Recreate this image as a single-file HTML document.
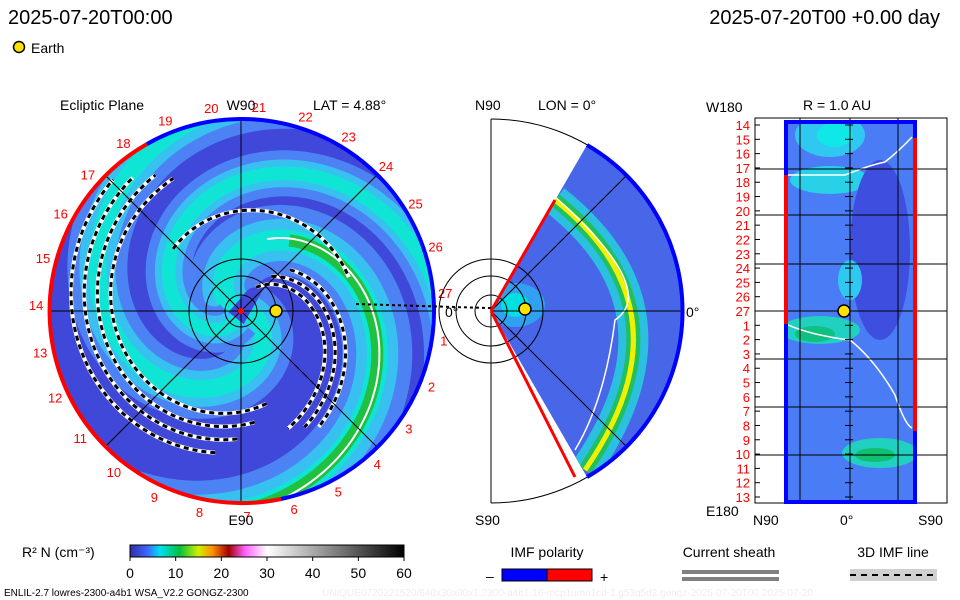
<!DOCTYPE html>
<html><head><meta charset="utf-8"><style>
html,body{margin:0;padding:0;background:#fff;}
svg{display:block;font-family:"Liberation Sans",sans-serif;}
</style></head><body>
<svg id="c" width="960" height="600" viewBox="0 0 960 600" xmlns="http://www.w3.org/2000/svg">
<defs>
<clipPath id="disk"><circle cx="241" cy="311" r="192"/></clipPath>
<clipPath id="wedge"><path d="M491,311 L587,145 A192,192 0 0 1 587,477 Z"/></clipPath>
<clipPath id="rect"><rect x="786" y="122" width="129" height="380"/></clipPath>
<linearGradient id="cbar" x1="0" x2="1">
<stop offset="0" stop-color="#3030a0"/><stop offset="0.06" stop-color="#4060ff"/><stop offset="0.11" stop-color="#00e0f0"/><stop offset="0.18" stop-color="#00c040"/><stop offset="0.25" stop-color="#d0f000"/><stop offset="0.3" stop-color="#ff9000"/><stop offset="0.36" stop-color="#a00000"/><stop offset="0.42" stop-color="#ff60ff"/><stop offset="0.5" stop-color="#ffffff"/><stop offset="1" stop-color="#000000"/>
</linearGradient>
</defs>

<text x="8" y="24" font-size="20">2025-07-20T00:00</text>
<text x="940" y="24" font-size="20" text-anchor="end">2025-07-20T00 +0.00 day</text>
<circle cx="19" cy="47" r="5.5" fill="#ffe000" stroke="#000" stroke-width="1.5"/>
<text x="31" y="53" font-size="14">Earth</text>

<g>
<circle cx="241" cy="311" r="192" fill="#3f48d8"/>
<g id="arms" clip-path="url(#disk)"></g>
<g stroke="#000" stroke-width="1" fill="none">
<line x1="241" y1="119" x2="241" y2="503"/><line x1="49" y1="311" x2="433" y2="311"/>
<line x1="105" y1="175" x2="377" y2="447"/><line x1="105" y1="447" x2="377" y2="175"/>
<circle cx="241" cy="311" r="16"/><circle cx="241" cy="311" r="35"/><circle cx="241" cy="311" r="52"/>
</g>
<path d="M241,119 A192,192 0 0 1 281,499" fill="none" stroke="#0000ff" stroke-width="4"/>
<path d="M281,499 A192,192 0 0 1 147,144" fill="none" stroke="#ff0000" stroke-width="4"/>
<path d="M147,144 A192,192 0 0 1 241,119" fill="none" stroke="#0000ff" stroke-width="4"/>
<g id="lonlabels" font-size="13" fill="#ff0000" text-anchor="middle"></g>
<text x="60" y="110" font-size="14">Ecliptic Plane</text>
<text x="241" y="110" font-size="14" text-anchor="middle">W90</text>
<text x="313" y="110" font-size="14">LAT = 4.88°</text>
<text x="241" y="525" font-size="14" text-anchor="middle">E90</text>
<text x="445" y="317" font-size="14">0°</text>
<path d="M356,304 L520,309" stroke="#000" stroke-width="2" stroke-dasharray="3,3"/>
<circle cx="276" cy="311" r="6" fill="#ffe000" stroke="#000" stroke-width="1.5"/>
<circle cx="241" cy="311" r="3" fill="#ff0000"/>
</g>

<g>
<path d="M491,119 A192,192 0 0 1 491,503" fill="none" stroke="#000" stroke-width="1"/>
<line x1="491" y1="119" x2="491" y2="503" stroke="#000"/>
<path d="M491,311 L587,145 A192,192 0 0 1 587,477 Z" fill="#4766e8"/>
<g clip-path="url(#wedge)">
<ellipse cx="515" cy="305" rx="30" ry="22" fill="#30a0f0"/>
<ellipse cx="515" cy="305" rx="14" ry="12" fill="#00e0e0"/>
<path d="M555,200 Q695,311 585,470" fill="none" stroke="#2cc0e0" stroke-width="30"/>
<path d="M555,200 Q695,311 585,470" fill="none" stroke="#20c060" stroke-width="14"/>
<path d="M555,200 Q695,311 585,470" fill="none" stroke="#f0f000" stroke-width="5"/>
<path d="M553,195 Q660,290 615,320 Q605,400 575,450" fill="none" stroke="#fff" stroke-width="1.5"/>
</g>
<g stroke="#000" fill="none"><circle cx="491" cy="311" r="16"/><circle cx="491" cy="311" r="35"/><circle cx="491" cy="311" r="52"/>
<line x1="491" y1="311" x2="627" y2="175"/><line x1="491" y1="311" x2="627" y2="447"/><line x1="491" y1="311" x2="683" y2="311"/></g>
<path d="M587,145 A192,192 0 0 1 587,477" fill="none" stroke="#0000ff" stroke-width="4"/>
<line x1="491" y1="311" x2="555" y2="200" stroke="#ff0000" stroke-width="3"/>
<line x1="491" y1="311" x2="575" y2="477" stroke="#ff0000" stroke-width="3"/>
<circle cx="525" cy="309" r="6" fill="#ffe000" stroke="#000" stroke-width="1.5"/>
<text x="475" y="110" font-size="14">N90</text>
<text x="538" y="110" font-size="14">LON = 0°</text>
<text x="686" y="317" font-size="14">0°</text>
<text x="475" y="525" font-size="14">S90</text>
</g>

<g>
<rect x="755" y="118" width="192" height="385" fill="#fff" stroke="#000"/>
<rect x="786" y="122" width="129" height="380" fill="#4a7cf5"/>
<g clip-path="url(#rect)">
<ellipse cx="830" cy="135" rx="35" ry="22" fill="#30c8f0"/>
<ellipse cx="835" cy="135" rx="18" ry="12" fill="#10e8e8"/>
<ellipse cx="830" cy="180" rx="40" ry="14" fill="#28d0e8"/>
<ellipse cx="880" cy="250" rx="30" ry="90" fill="#3e4fe0"/>
<ellipse cx="820" cy="330" rx="40" ry="14" fill="#20d0c0"/>
<ellipse cx="815" cy="334" rx="20" ry="8" fill="#10c080"/>
<ellipse cx="880" cy="453" rx="38" ry="15" fill="#20d0c0"/>
<ellipse cx="875" cy="455" rx="20" ry="7" fill="#10c070"/>
<ellipse cx="850" cy="280" rx="12" ry="20" fill="#30c8f0"/>
<path d="M786,175 L845,175 Q870,165 885,162 Q900,150 912,137" fill="none" stroke="#fff" stroke-width="1.5"/>
<path d="M786,324 Q810,335 850,340 Q875,360 895,395 Q905,425 912,428" fill="none" stroke="#fff" stroke-width="1.5"/>
</g>
<g id="rgrid" stroke="#000"></g>
<rect x="786" y="122" width="129" height="380" fill="none" stroke="#0000ff" stroke-width="4"/>
<line x1="786" y1="175" x2="786" y2="324" stroke="#ff0000" stroke-width="4"/>
<line x1="915" y1="138" x2="915" y2="431" stroke="#ff0000" stroke-width="4"/>
<circle cx="844" cy="311" r="6" fill="#ffe000" stroke="#000" stroke-width="1.5"/>
<g id="rlabels" font-size="13" fill="#ff0000" text-anchor="end"></g>
<text x="706" y="112" font-size="14">W180</text>
<text x="803" y="110" font-size="14">R = 1.0 AU</text>
<text x="706" y="516" font-size="14">E180</text>
<text x="753" y="525" font-size="14">N90</text>
<text x="840" y="525" font-size="14">0°</text>
<text x="918" y="525" font-size="14">S90</text>
</g>

<g>
<text x="22" y="557" font-size="14">R² N (cm⁻³)</text>
<rect x="130" y="545" width="274" height="12" fill="url(#cbar)" stroke="#000"/>
<g id="cticks" font-size="14" text-anchor="middle"></g>
</g>
<g>
<text x="547" y="557" font-size="14" text-anchor="middle">IMF polarity</text>
<text x="486" y="581" font-size="14">–</text>
<rect x="502" y="569" width="45" height="12" fill="#0000ff" stroke="#000"/>
<rect x="547" y="569" width="45" height="12" fill="#ff0000" stroke="#000"/>
<text x="600" y="582" font-size="14">+</text>
</g>
<g>
<text x="729" y="557" font-size="14" text-anchor="middle">Current sheath</text>
<rect x="682" y="570" width="97" height="4" fill="#808080"/><rect x="682" y="577" width="97" height="4" fill="#808080"/>
</g>
<g>
<text x="893" y="557" font-size="14" text-anchor="middle">3D IMF line</text>
<rect x="850" y="569" width="87" height="12" fill="#d0d0d0"/>
<line x1="850" y1="575" x2="937" y2="575" stroke="#000" stroke-width="2" stroke-dasharray="6,5"/>
</g>
<text x="4" y="596" font-size="10">ENLIL-2.7 lowres-2300-a4b1 WSA_V2.2 GONGZ-2300</text>
<text x="322" y="596" font-size="10" fill="#eeeeee">UNIQUE0720221520/640x30x90x1.2300-a4b1.16-mcp1umn1cd-1.g53q5d2.gongz-2025-07-20T00   2025-07-20</text>

<script>
const NS="http://www.w3.org/2000/svg";
const colorTicks=[0,10,20,30,40,50,60];
const lonLabels=[27,26,25,24,23,22,21,20,19,18,17,16,15,14,13,12,11,10,9,8,7,6,5,4,3,2,1];
const rowLabels=[14,15,16,17,18,19,20,21,22,23,24,25,26,27,1,2,3,4,5,6,7,8,9,10,11,12,13];
const armPhases=[-2.87,0.1,1.81];
const armWidth=[70,60,46];
// IMF lines: start angle (rad, clockwise from +x), end angle, radius at start, radial growth per rad
const imfA0=[1.3,1.45,1.6,1.75,-1.0,-0.85,-0.7,-2.4];
const imfA1=[4.25,4.15,4.05,3.95,1.2,1.1,1.0,-0.3];
const imfR0=[96,112,128,144,28,46,64,92];
const imfB=[18,18,18,18,45,45,45,10];
function mk(t,a,p){const e=document.createElementNS(NS,t);for(const k in a)e.setAttribute(k,a[k]);p.appendChild(e);return e;}
const cx=241,cy=311,B=45;
function spiral(ph,start,end){let d="";for(let t=start;t<=end;t+=0.04){const r=B*t;const a=ph+t;const x=cx+r*Math.cos(a),y=cy+r*Math.sin(a);d+=(d?"L":"M")+x.toFixed(1)+","+y.toFixed(1);}return d;}
function arc(a0,a1,r0,b){let d="";for(let a=a0;a<=a1;a+=0.03){const r=r0+b*(a-a0);const x=cx+r*Math.cos(a),y=cy+r*Math.sin(a);d+=(d?"L":"M")+x.toFixed(1)+","+y.toFixed(1);}return d;}
const arms=document.getElementById("arms");
armPhases.forEach((ph,i)=>{
 const w=armWidth[i];
 const p0=mk("path",{d:spiral(ph,0.2,5),fill:"none",stroke:"#4c82f4","stroke-width":w},arms);
 
 
 const p1=mk("path",{d:spiral(ph,0.2,5),fill:"none",stroke:"#38c0f0","stroke-width":w*0.6},arms);
 
 
 const p2=mk("path",{d:spiral(ph,0.2,5),fill:"none",stroke:"#10e4d4","stroke-width":w*0.3},arms);
 
 
 if(i===0){
 const p3=mk("path",{d:spiral(ph,1.9,5),fill:"none",stroke:"#20c040","stroke-width":12},arms);
 
 
 mk("path",{d:spiral(ph-0.05,1.7,5),fill:"none",stroke:"#fff","stroke-width":2},arms);
 }
});
imfA0.forEach((a0,i)=>{
 const d=arc(a0,imfA1[i],imfR0[i],imfB[i]);
 const w=mk("path",{d:d,fill:"none",stroke:"#fff","stroke-width":4},arms);
 
 
 const b=mk("path",{d:d,fill:"none",stroke:"#000","stroke-width":3,"stroke-dasharray":"5,4"},arms);
 
 
});
const ll=document.getElementById("lonlabels");
lonLabels.forEach((n,i)=>{const a=(5+i*360/27)*Math.PI/180;const t=mk("text",{x:(cx+205*Math.cos(a)).toFixed(1),y:(cy-205*Math.sin(a)+5).toFixed(1)},ll);t.textContent=n;
 
 });
const rl=document.getElementById("rlabels"),rg=document.getElementById("rgrid");
const y0=125,y1=497;
rowLabels.forEach((n,i)=>{const y=y0+i*(y1-y0)/(rowLabels.length-1);const t=mk("text",{x:750,y:(y+5).toFixed(1)},rl);t.textContent=n;
 
 
 mk("line",{x1:755,x2:760,y1:y,y2:y},rg);mk("line",{x1:845,x2:853,y1:y,y2:y},rg);});
[169,215,264,311,359,407,455].forEach(y=>mk("line",{x1:755,x2:947,y1:y,y2:y},rg));
[800,850,898].forEach(x=>mk("line",{x1:x,x2:x,y1:118,y2:503},rg));
const ct=document.getElementById("cticks");
colorTicks.forEach(v=>{const x=130+v/60*274;mk("line",{x1:x,x2:x,y1:557,y2:561,stroke:"#000"},ct);const t=mk("text",{x:x,y:578},ct);t.textContent=v;
 
 });
</script>
</svg>
</body></html>
